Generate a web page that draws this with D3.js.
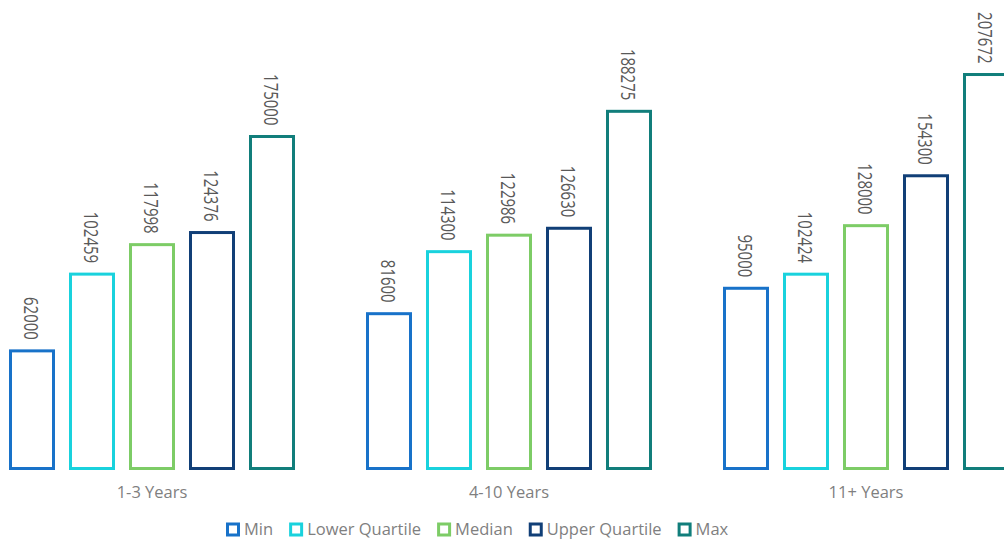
<!DOCTYPE html>
<html>
<head>
<meta charset="utf-8">
<script src="https://cdn.jsdelivr.net/npm/d3@7"></script>
<style>
  html, body { margin: 0; padding: 0; background: #ffffff; }
  svg { display: block; }
</style>
</head>
<body>
<svg id="chart" width="1004" height="540"></svg>
<script>
const categories = ["1-3 Years", "4-10 Years", "11+ Years"];
const seriesNames = ["Min", "Lower Quartile", "Median", "Upper Quartile", "Max"];
const minValues = [62000, 81600, 95000];
const lowerQuartileValues = [102459, 114300, 102424];
const medianValues = [117998, 122986, 128000];
const upperQuartileValues = [124376, 126630, 154300];
const maxValues = [175000, 188275, 207672];
const seriesColors = ["#1872c9", "#19d2dd", "#7dcc66", "#113f77", "#117e7b"];

const seriesValues = [minValues, lowerQuartileValues, medianValues, upperQuartileValues, maxValues];

const svg = d3.select("#chart");

const x0 = d3.scaleBand().domain(categories).range([-26.5, 1044.5]).paddingInner(0).paddingOuter(0);
const groupInner = 300;
const x1 = d3.scaleBand().domain(seriesNames).range([0, groupInner]).padding(0);
const y = d3.scaleLinear().domain([0, 175000]).range([468.5, 136.5]);

const stroke = 3;
const barW = 43;

const data = [];
categories.forEach((c, ci) => {
  seriesNames.forEach((s, si) => {
    data.push({ cat: c, series: s, value: seriesValues[si][ci], color: seriesColors[si] });
  });
});

const gx = (d) => x0(d.cat) + (x0.bandwidth() - groupInner) / 2 + x1(d.series);

svg.append("g").selectAll("rect").data(data).join("rect")
  .attr("x", d => gx(d) + (x1.bandwidth() - barW) / 2)
  .attr("y", d => y(d.value))
  .attr("width", barW)
  .attr("height", d => y(0) - y(d.value))
  .attr("fill", "#ffffff")
  .attr("stroke", d => d.color)
  .attr("stroke-width", stroke);

// value labels, rotated
svg.append("g").selectAll("text").data(data).join("text")
  .attr("transform", d => `translate(${gx(d) + x1.bandwidth() / 2},${y(d.value) - 11}) scale(1.3,1) rotate(90)`)
  .attr("text-anchor", "end")
  .attr("dominant-baseline", "central")
  .attr("font-family", "'Open Sans', sans-serif")
  .attr("font-size", 15)
  .attr("fill", "#595959")
  .text(d => d.value);

// category axis labels
const xAxis = d3.axisBottom(x0).tickSize(0).tickPadding(0);
const axisG = svg.append("g").attr("transform", "translate(0,484)").call(xAxis);
axisG.select(".domain").remove();
axisG.selectAll("text")
  .attr("font-family", "'Open Sans', sans-serif")
  .attr("font-size", 16.5)
  .attr("fill", "#7f7f7f")
  .attr("dy", "0.85em");

// legend
const legend = svg.append("g").attr("transform", "translate(226,529.5)");
let lx = 0;
seriesNames.forEach((s, i) => {
  const g = legend.append("g").attr("transform", `translate(${lx},0)`);
  g.append("rect")
    .attr("x", 1.5).attr("y", -5.5)
    .attr("width", 11).attr("height", 11)
    .attr("fill", "#ffffff")
    .attr("stroke", seriesColors[i])
    .attr("stroke-width", 3);
  const t = g.append("text")
    .attr("x", 18)
    .attr("y", 0)
    .attr("dy", "0.36em")
    .attr("font-family", "'Open Sans', sans-serif")
    .attr("font-size", 16.5)
    .attr("fill", "#7f7f7f")
    .text(s);
  lx += 18 + t.node().getComputedTextLength() + 16;
});
</script>
</body>
</html>
